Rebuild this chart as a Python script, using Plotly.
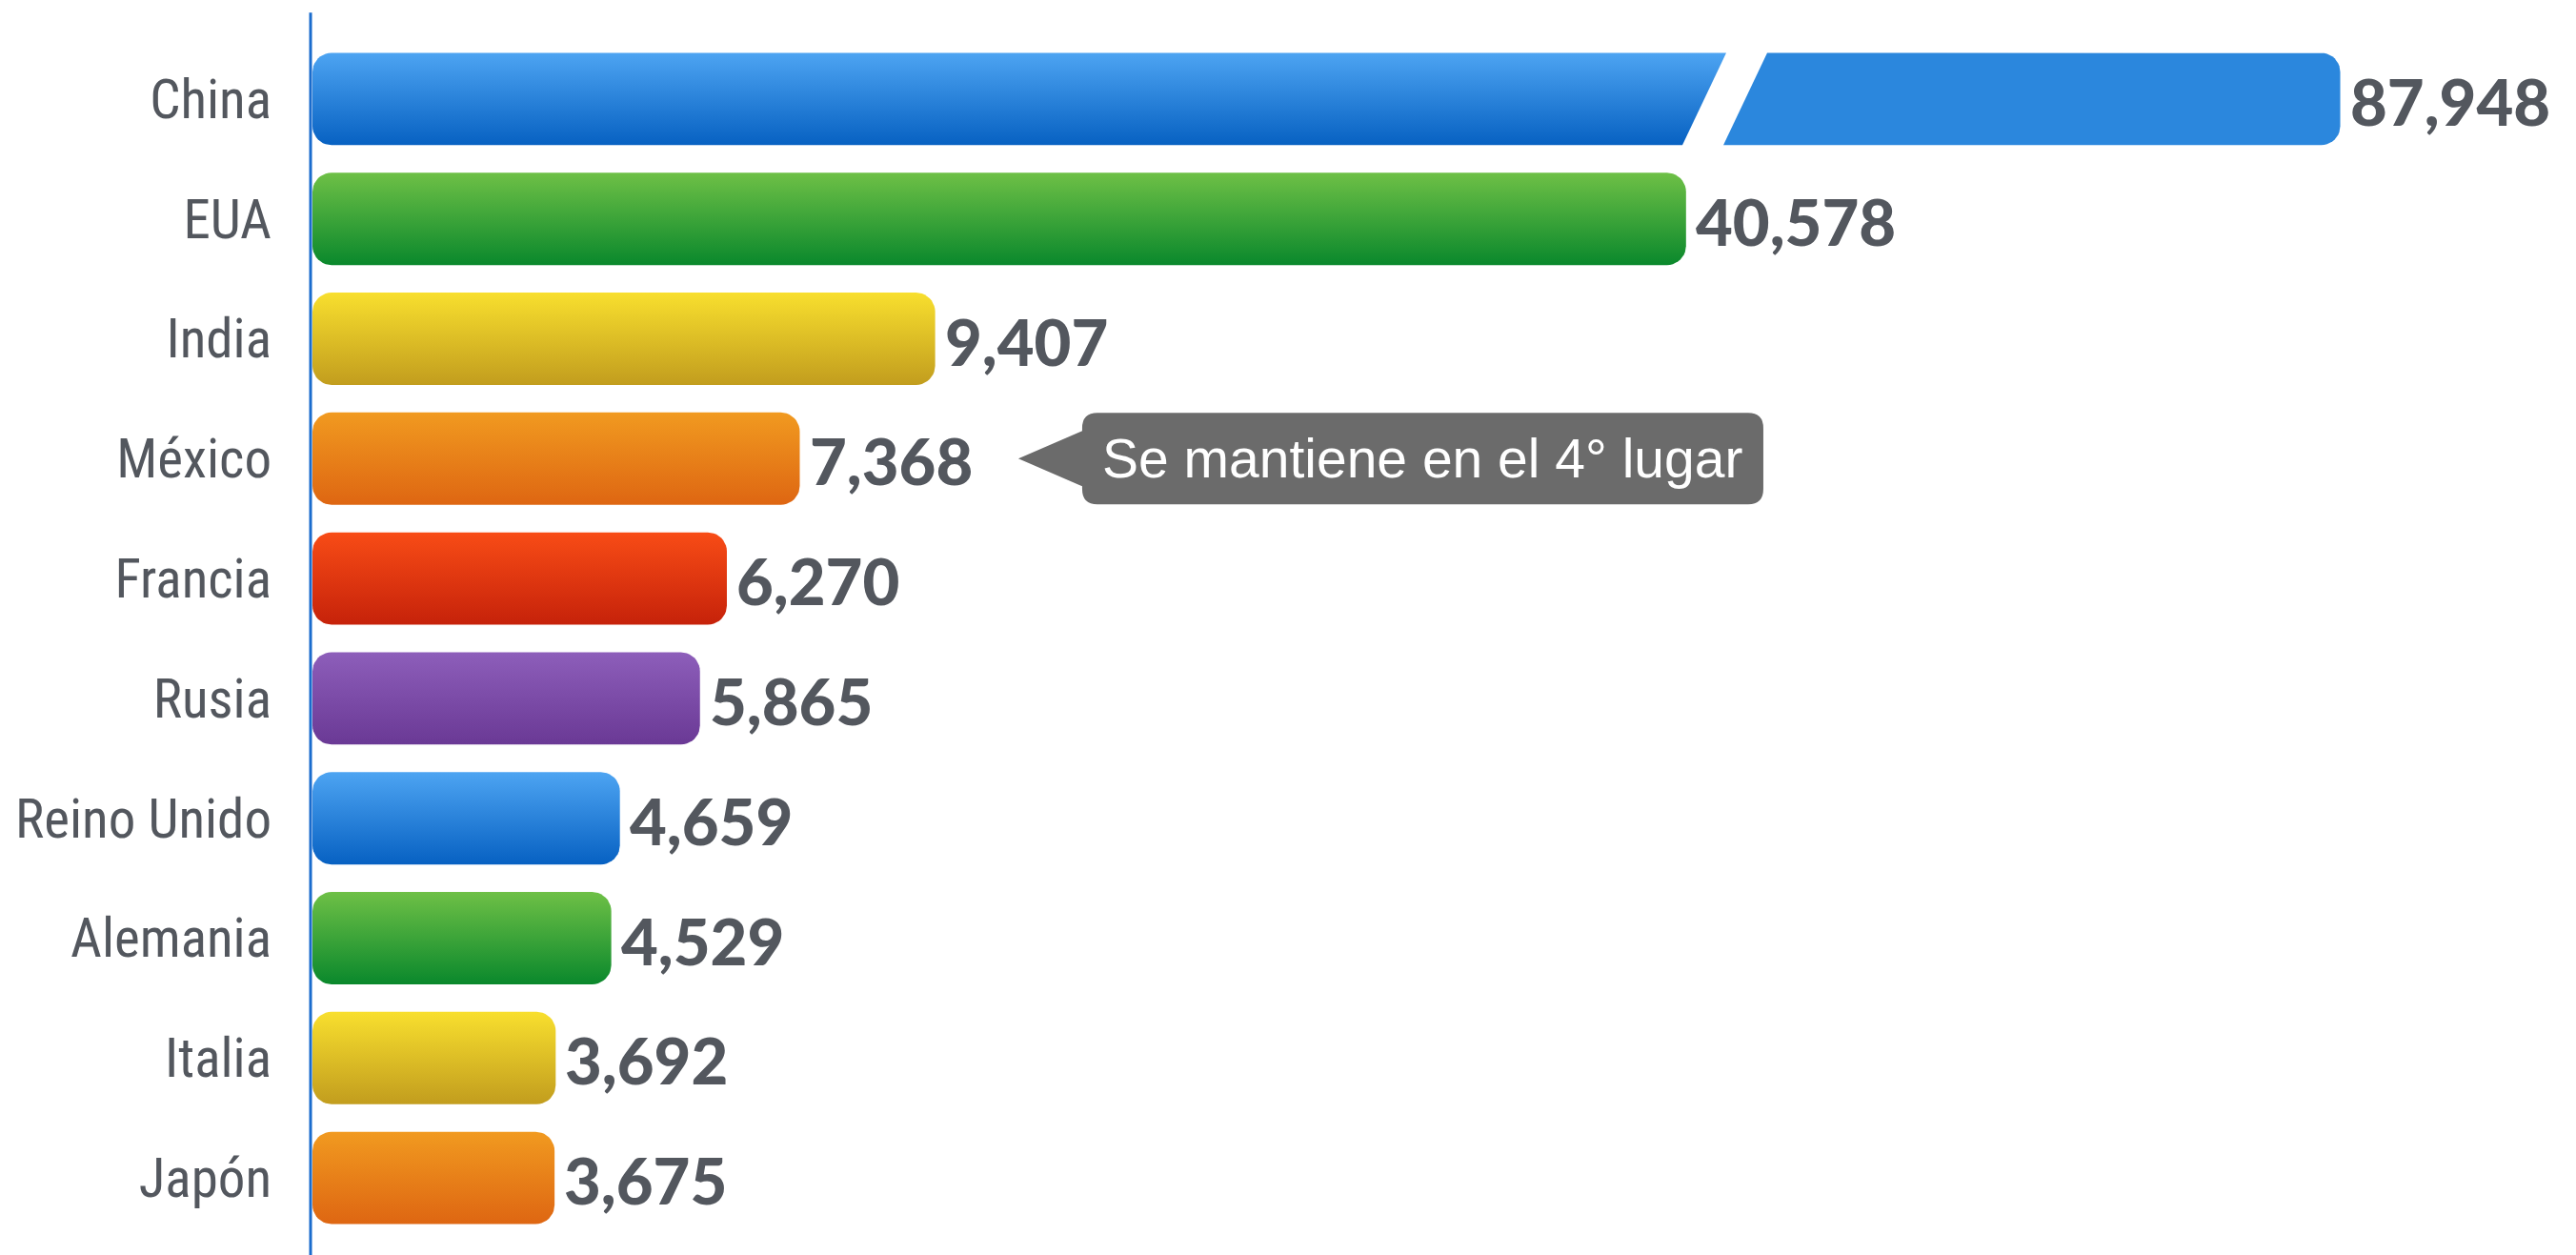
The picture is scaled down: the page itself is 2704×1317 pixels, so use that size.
import plotly.graph_objects as go
import math

# ---------------- data ----------------
countries = ["China", "EUA", "India", "México", "Francia", "Rusia",
             "Reino Unido", "Alemania", "Italia", "Japón"]
values = [87948, 40578, 9407, 7368, 6270, 5865, 4659, 4529, 3692, 3675]
color_top = ["#4DA4F2", "#6EC046", "#F8DF2E", "#F19A20", "#F84C16", "#8D5EBA",
             "#4DA4F2", "#6EC046", "#F8DF2E", "#F19A20"]
color_bottom = ["#0761C2", "#0A882C", "#C29D1E", "#DE6612", "#C6220A", "#6A3995",
                "#0761C2", "#0A882C", "#C29D1E", "#DE6612"]
callout_text = "Se mantiene en el 4° lugar"
callout_row = 3

# ---------------- layout constants ----------------
W, H = 2704, 1317
ML, MR, MT, MB = 318, 8, 33, 26
PW, PH = W - ML - MR, H - MT - MB
N = len(countries)
XMAX = 34120
PXX = PW / XMAX          # px per x unit
PXY = PH / N             # px per category
BAR_H = 0.77
RAD = 20                 # corner radius px

# axis compression (broken scale) for very long bars
KNEE, SLOPE = 15500, 0.208
def scale(v):
    return v if v <= KNEE else KNEE + (v - KNEE) * SLOPE

def to_data(X, Y):
    return (X - ML) / PXX, (Y - MT) / PXY - 0.5

def to_px(x, y):
    return ML + x * PXX, MT + (y + 0.5) * PXY

def arc(cx, cy, a0, a1, r, n=10):
    pts = []
    for k in range(n + 1):
        a = math.radians(a0 + (a1 - a0) * k / n)
        pts.append((cx + r * math.cos(a), cy + r * math.sin(a)))
    return pts

def rrect_px(x0, x1, yt, yb, r):
    pts = []
    pts += arc(x1 - r, yt + r, -90, 0, r)
    pts += arc(x1 - r, yb - r, 0, 90, r)
    pts += arc(x0 + r, yb - r, 90, 180, r)
    pts += arc(x0 + r, yt + r, 180, 270, r)
    pts.append(pts[0])
    return pts

def pts_to_xy(pts):
    xs, ys = [], []
    for X, Y in pts:
        x, y = to_data(X, Y)
        xs.append(x); ys.append(y)
    return xs, ys

fig = go.Figure()

BREAK_AT = 21300   # display position of the bar break
for i, (c, v) in enumerate(zip(countries, values)):
    x0p, yc = to_px(0, i)
    x0p += 2
    x1p, _ = to_px(scale(v), i)
    yt, yb = yc - BAR_H * PXY / 2, yc + BAR_H * PXY / 2
    grad = dict(type="vertical", colorscale=[[0, color_bottom[i]], [1, color_top[i]]])
    if v > 60000:
        xc, _ = to_px(BREAK_AT, i)
        gap, sl = 43, 23
        # left piece
        pts = []
        pts += arc(x0p + RAD, yb - RAD, 90, 180, RAD)
        pts += arc(x0p + RAD, yt + RAD, 180, 270, RAD)
        pts += [(xc - gap / 2 + sl, yt), (xc - gap / 2 - sl, yb)]
        pts.append(pts[0])
        xs, ys = pts_to_xy(pts)
        fig.add_trace(go.Scatter(x=xs, y=ys, fill="toself", mode="lines",
                                 line=dict(width=0), fillgradient=grad,
                                 hoverinfo="skip", showlegend=False))
        # right piece
        pts = [(xc + gap / 2 + sl, yt)]
        pts += arc(x1p - RAD, yt + RAD, -90, 0, RAD)
        pts += arc(x1p - RAD, yb - RAD, 0, 90, RAD)
        pts += [(xc + gap / 2 - sl, yb)]
        pts.append(pts[0])
        xs, ys = pts_to_xy(pts)
        fig.add_trace(go.Scatter(x=xs, y=ys, fill="toself", mode="lines",
                                 line=dict(width=0), fillcolor="#2B87DD",
                                 hoverinfo="skip", showlegend=False))
    else:
        xs, ys = pts_to_xy(rrect_px(x0p, x1p, yt, yb, RAD))
        fig.add_trace(go.Scatter(x=xs, y=ys, fill="toself", mode="lines",
                                 line=dict(width=0), fillgradient=grad,
                                 hoverinfo="skip", showlegend=False))
    fig.add_annotation(x=scale(v), y=i, text=f"{v:,}", showarrow=False,
                       xanchor="left", yanchor="middle", xshift=8, yshift=-2,
                       font=dict(family="Lato", size=67, color="#53575E", weight=900))

# callout
_, cy = to_px(0, callout_row)
CALLOUT_TIP = 10660
tipX, _ = to_px(CALLOUT_TIP, callout_row)
bx0, bx1 = tipX + 67, tipX + 782
by0, by1 = cy - 48, cy + 48
r = 16
def P(X, Y):
    x, y = to_data(X, Y)
    return f"{x:.3f},{y:.5f}"
path = (f"M{P(bx0 + r, by0)} L{P(bx1 - r, by0)} Q{P(bx1, by0)} {P(bx1, by0 + r)} "
        f"L{P(bx1, by1 - r)} Q{P(bx1, by1)} {P(bx1 - r, by1)} L{P(bx0 + r, by1)} "
        f"Q{P(bx0, by1)} {P(bx0, by1 - r)} L{P(bx0, cy + 29)} L{P(tipX, cy)} "
        f"L{P(bx0, cy - 29)} L{P(bx0, by0 + r)} Q{P(bx0, by0)} {P(bx0 + r, by0)} Z")
fig.add_shape(type="path", path=path, xref="x", yref="y",
              fillcolor="#6B6B6B", line=dict(width=0), layer="above")
cxm, _ = to_data((bx0 + bx1) / 2, cy)
fig.add_annotation(x=cxm, y=callout_row, text=callout_text, showarrow=False,
                   xanchor="center", yanchor="middle",
                   font=dict(family="Liberation Sans, Arial", size=57, color="#FFFFFF"))

# axis line
fig.add_shape(type="line", xref="paper", yref="paper", x0=0, x1=0, y0=-0.03, y1=1.022,
              line=dict(color="#1A6CCD", width=3), layer="above")

fig.update_layout(
    width=W, height=H, autosize=False,
    margin=dict(l=ML, r=MR, t=MT, b=MB),
    paper_bgcolor="white", plot_bgcolor="white",
    xaxis=dict(range=[0, XMAX], visible=False, showgrid=False, zeroline=False),
    yaxis=dict(range=[N - 0.5, -0.5], tickvals=list(range(N)), ticktext=countries,
               showgrid=False, zeroline=False, showline=False, ticks="",
               ticklabelstandoff=40,
               tickfont=dict(family="Liberation Sans Narrow, Roboto Condensed, Roboto",
                             size=57, color="#53575E")),
)

fig.write_html("out.html")
